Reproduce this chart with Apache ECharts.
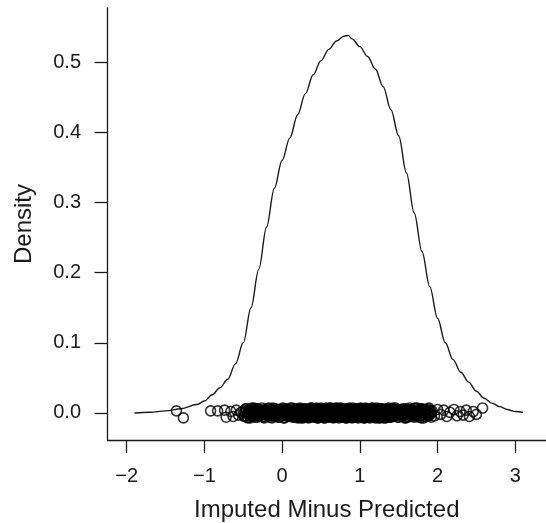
<!DOCTYPE html>
<html>
<head>
<meta charset="utf-8">
<script src="https://cdn.jsdelivr.net/npm/echarts@6/dist/echarts.min.js"></script>
<style>
html,body{margin:0;padding:0;background:#fff;}
#chart{width:546px;height:523px;}
</style>
</head>
<body>
<div id="chart"></div>
<script>
// Density curve (x, density)
const curveX = [-1.9,-1.7,-1.5,-1.3,-1.1,-1.0,-0.9,-0.8,-0.7,-0.6,-0.5,-0.4,-0.3,-0.2,-0.1,0.0,0.1,0.2,0.3,0.4,0.5,0.6,0.7,0.8,0.85,0.9,1.0,1.1,1.2,1.3,1.4,1.5,1.6,1.7,1.8,1.9,2.0,2.1,2.2,2.3,2.4,2.5,2.6,2.7,2.8,2.9,3.0,3.1];
const curveY = [0.000,0.001,0.003,0.006,0.012,0.017,0.026,0.036,0.048,0.070,0.100,0.150,0.205,0.265,0.320,0.360,0.392,0.425,0.455,0.482,0.502,0.518,0.530,0.537,0.538,0.533,0.522,0.508,0.490,0.465,0.432,0.395,0.342,0.285,0.230,0.180,0.135,0.100,0.076,0.058,0.044,0.031,0.021,0.014,0.009,0.005,0.002,0.001];

// Jittered points, set 1: x in hundredths, y jitter in thousandths
const pointX = [
-136,-127,-92,-83,-74,-72,-66,-63,-59,-56,-53,
-50,-49,-48,-46,-45,-44,-42,-41,-40,-38,-37,-36,-35,-33,-32,-31,-29,-28,-27,-26,-24,-23,-22,-21,-19,-18,-17,-16,-14,-13,-12,-11,-10,-8,-7,-6,-5,-4,-3,-1,0,1,2,3,4,5,7,8,9,10,11,12,13,14,15,16,17,18,19,20,
21,21,22,22,23,23,24,24,25,25,26,26,27,27,28,28,29,29,30,30,31,31,32,32,33,33,34,34,35,35,36,36,37,37,38,38,39,39,40,40,
41,41,42,42,43,43,44,44,45,45,46,46,47,47,48,48,49,49,50,50,51,51,52,52,53,53,54,54,55,55,56,56,57,57,58,58,59,59,60,60,
61,61,62,62,63,63,64,64,65,65,66,66,67,67,68,68,69,69,70,70,71,71,72,72,73,73,74,74,75,75,76,76,77,77,78,78,79,79,80,80,
81,81,82,82,83,83,84,84,85,85,86,86,87,87,88,88,89,89,90,90,91,91,92,92,93,93,94,94,95,95,96,96,97,97,98,98,99,99,100,100,
101,101,102,102,103,103,104,104,105,105,106,106,107,107,108,108,109,109,110,110,111,111,112,112,113,113,114,114,115,115,116,116,117,117,118,118,119,119,120,120,
121,121,122,122,123,123,124,124,125,125,126,126,127,127,128,128,129,129,130,130,131,131,132,132,133,133,134,134,135,135,136,136,137,137,138,138,139,139,140,140,
141,142,143,144,145,146,147,149,150,151,153,154,155,157,158,159,160,162,163,164,166,167,168,170,171,172,174,175,177,178,179,181,182,184,185,186,188,189,191,192,
193,196,200,204,208,212,216,221,225,229,233,237,241,246,250,258
];
const pointY = [
3,-7,3,3,4,-6,2,-5,4,-3,1,
3,-5,1,6,-2,-7,4,0,-4,5,-1,7,-6,2,-3,6,-5,1,4,-2,
-6,3,5,-1,0,-4,7,-3,2,-7,4,-2,6,1,-5,3,-6,5,0,-3,
2,-4,6,-7,1,4,-2,5,-5,0,7,-3,3,-6,-1,6,2,-4,4,-7,
5,0,-6,3,-2,7,-4,1,6,-5,2,-1,-7,4,0,-3,5,-6,3,1,
-3,6,-1,-5,4,2,-7,5,0,-2,3,-6,7,-4,1,-1,6,-5,2,-3,
4,-6,0,5,-3,1,7,-2,-5,3,-7,6,-1,2,-4,5,0,-6,1,7,
-2,4,-5,1,6,-3,0,-7,3,5,-4,2,-1,7,-6,4,-2,0,6,-5,
1,-3,7,-6,2,-1,5,-4,4,0,-7,3,6,-2,-5,1,7,-3,-6,2,
6,-1,-4,3,-7,5,0,-2,4,-5,1,7,-3,2,-6,6,-1,3,-4,0,
-5,2,4,-7,0,6,-3,1,-6,5,-2,3,7,-4,-1,4,-5,2,0,-7,
7,-4,1,-2,5,-6,3,0,-3,6,-5,2,4,-1,-7,5,1,-4,6,-2,
0,5,-3,6,-6,2,-1,4,-7,1,3,-5,7,-2,0,-4,6,-6,2,5,
-4,1,6,-2,3,-7,5,-1,0,4,-5,7,-3,2,-6,1,5,-2,-7,3,
2,-6,-1,7,-4,4,0,-3,6,-5,1,-7,3,5,-2,6,-4,0,2,-1,
-7,3,5,-4,1,-2,6,-6,2,0,4,-3,7,-5,-1,3,-6,5,1,-4,
6,0,-5,2,-3,7,-1,4,-6,1,5,-4,-2,3,-7,6,0,-5,4,-2,
-1,5,3,-6,7,-3,0,2,-4,6,-7,1,4,-5,-2,5,-3,7,0,-6,
3,-4,5,-2,4,-5,1,5,-4,2,-3,4,-5,2,-2,7
];

// Jittered points, set 2 (dense band): x in hundredths, y jitter in thousandths
const pointX2 = [
-48,-47,-46,-45,-44,-43,-42,-41,-40,-39,-38,-37,-36,-35,-34,-33,-32,-31,-30,-29,
-28,-27,-26,-25,-24,-23,-22,-21,-20,-19,-18,-17,-16,-15,-14,-13,-12,-11,-10,-9,
-8,-7,-6,-5,-4,-3,-2,-1,0,1,2,3,4,5,6,7,8,9,10,11,
12,13,14,15,16,17,18,19,20,21,22,23,24,25,26,27,28,29,30,31,
32,33,34,35,36,37,38,39,40,41,42,43,44,45,46,47,48,49,50,51,
52,53,54,55,56,57,58,59,60,61,62,63,64,65,66,67,68,69,70,71,
72,73,74,75,76,77,78,79,80,81,82,83,84,85,86,87,88,89,90,91,
92,93,94,95,96,97,98,99,100,101,102,103,104,105,106,107,108,109,110,111,
112,113,114,115,116,117,118,119,120,121,122,123,124,125,126,127,128,129,130,131,
132,133,134,135,136,137,138,139,140,141,142,143,144,145,146,147,148,149,150,151,
152,153,154,155,156,157,158,159,160,161,162,163,164,165,166,167,168,169,170,171,
172,173,174,175,176,177,178,179,180,181,182,183,184,185,186,187,188,189,190,191,
192
];
const pointY2 = [
-4,6,2,-6,0,5,-2,-7,3,7,-5,1,-3,4,-1,6,-6,2,5,-4,
1,-2,7,-5,3,-7,0,4,-3,6,-1,2,-6,5,-4,0,7,-2,3,-5,
6,-3,-1,4,-6,2,5,-4,0,7,-7,3,-2,1,6,-5,4,-1,-3,2,
-5,7,0,-2,4,-6,1,6,-4,3,-1,5,-7,2,0,-3,6,-5,4,1,
3,-1,-6,5,2,-4,7,-2,0,-5,6,1,-3,4,-7,3,-1,5,-4,0,
-2,4,6,-7,1,-3,5,0,-5,2,7,-4,-1,3,-6,6,0,-2,4,-5,
7,-5,2,0,-3,6,-6,4,1,-2,5,-7,3,-4,0,6,-1,2,-6,4,
0,3,-4,6,-1,-6,2,5,-3,7,-5,1,4,-2,-7,5,0,-4,3,6,
-6,1,4,-3,7,0,-5,2,6,-1,-4,3,-7,5,1,-2,6,-3,0,4,
5,-7,-1,3,-4,6,0,-6,2,4,-2,7,-5,1,-3,5,-1,-6,3,0,
-3,5,1,-5,6,-2,3,-7,4,0,-6,2,7,-4,-1,4,-5,1,6,-2,
2,-4,7,-1,-6,3,0,5,-3,6,-7,1,4,-5,2,-2,6,-4,0,3,
-1
];

const xTicks = [-2,-1,0,1,2,3];
const yTicks = [0,0.1,0.2,0.3,0.4,0.5];
const xTitle = 'Imputed Minus Predicted';
const yTitle = 'Density';

const curveData = curveX.map((x,i)=>[x,curveY[i]]);
const pointData = [];
for (let i=0;i<Math.min(pointX.length, pointY.length);i++) pointData.push([pointX[i]/100, pointY[i]/1000]);
for (let i=0;i<Math.min(pointX2.length, pointY2.length);i++) pointData.push([pointX2[i]/100, pointY2[i]/1000]);

const font = 'Liberation Sans, Arial, Helvetica, sans-serif';
const ink = '#1a1a1a';

const chart = echarts.init(document.getElementById('chart'), null, {renderer:'canvas'});
chart.setOption({
  animation:false,
  backgroundColor:'#fff',
  grid:{left:107.5, right:0, top:8, bottom:83, outerBoundsMode:'none', containLabel:false},
  xAxis:{
    type:'value', min:-2.247, max:3.396,
    name:xTitle, nameLocation:'middle', nameGap:58,
    nameTextStyle:{fontSize:24, color:ink, fontFamily:font},
    axisLine:{show:true, onZero:false, lineStyle:{color:ink, width:1.3}},
    axisTick:{show:true, inside:false, length:13, customValues:xTicks, lineStyle:{color:ink, width:1.3}},
    axisLabel:{show:true, customValues:xTicks, margin:26, fontSize:20, color:ink, fontFamily:font,
      formatter:v=> (v<0? '\u2212'+Math.abs(v) : String(v))},
    splitLine:{show:false}
  },
  yAxis:{
    type:'value', min:-0.0385, max:0.577,
    name:yTitle, nameLocation:'middle', nameGap:71,
    nameTextStyle:{fontSize:24, color:ink, fontFamily:font},
    axisLine:{show:true, onZero:false, lineStyle:{color:ink, width:1.3}},
    axisTick:{show:true, inside:false, length:13, customValues:yTicks, lineStyle:{color:ink, width:1.3}},
    axisLabel:{show:true, customValues:yTicks, margin:26.5, fontSize:20, color:ink, fontFamily:font,
      formatter:v=>v.toFixed(1)},
    splitLine:{show:false}
  },
  series:[
    {type:'line', data:curveData, showSymbol:false, smooth:0.35, smoothMonotone:'x',
     lineStyle:{color:ink, width:1.4}, z:2},
    {type:'scatter', data:pointData, symbol:'circle', symbolSize:10, large:false,
     itemStyle:{color:'rgba(0,0,0,0)', borderColor:'#000', borderWidth:1.6}, z:3}
  ]
});
</script>
</body>
</html>
